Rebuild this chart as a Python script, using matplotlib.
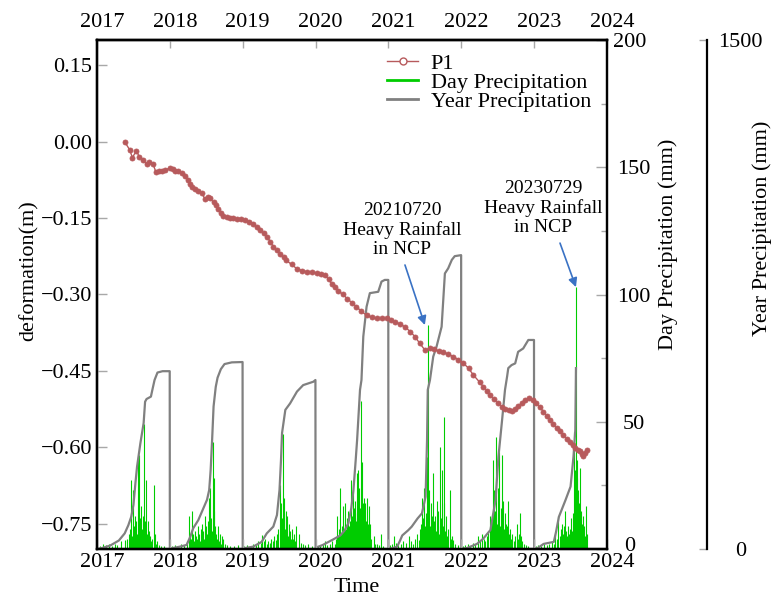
import matplotlib
matplotlib.use('Agg')
import matplotlib.pyplot as plt
import matplotlib.transforms as mtransforms
from matplotlib.lines import Line2D
from matplotlib.ticker import MultipleLocator
import numpy as np

plt.rcParams['font.family'] = ['Liberation Serif', 'DejaVu Serif']
plt.rcParams['font.size'] = 16

# P1 deformation (decimal year, m)
p1_time = [2017.38, 2017.45, 2017.485, 2017.54, 2017.58, 2017.635, 2017.68, 2017.72, 2017.77, 2017.81,
           2017.85, 2017.89, 2017.94, 2018.00, 2018.04, 2018.07, 2018.11, 2018.16, 2018.21, 2018.25,
           2018.28, 2018.31, 2018.345, 2018.39, 2018.44, 2018.48, 2018.52, 2018.55, 2018.60, 2018.63,
           2018.665, 2018.70, 2018.73, 2018.78, 2018.825, 2018.87, 2018.92, 2018.97, 2019.03, 2019.09,
           2019.145, 2019.19, 2019.24, 2019.29, 2019.33, 2019.38, 2019.42, 2019.47, 2019.51, 2019.56,
           2019.60, 2019.67, 2019.74, 2019.81, 2019.88, 2019.95, 2020.015, 2020.07, 2020.13, 2020.18,
           2020.22, 2020.27, 2020.31, 2020.38, 2020.43, 2020.50, 2020.56, 2020.63, 2020.70, 2020.77,
           2020.84, 2020.91, 2020.975, 2021.03, 2021.09, 2021.16, 2021.23, 2021.30, 2021.365, 2021.43,
           2021.50, 2021.57, 2021.63, 2021.69, 2021.75, 2021.82, 2021.89, 2021.96, 2022.03, 2022.10,
           2022.165, 2022.25, 2022.30, 2022.35, 2022.39, 2022.45, 2022.51, 2022.56, 2022.60, 2022.65,
           2022.69, 2022.735, 2022.78, 2022.83, 2022.87, 2022.925, 2022.985, 2023.03, 2023.08, 2023.125,
           2023.17, 2023.22, 2023.26, 2023.31, 2023.355, 2023.40, 2023.445, 2023.49, 2023.53, 2023.56,
           2023.60, 2023.63, 2023.655, 2023.675, 2023.70, 2023.73]
p1_def = [0.000, -0.016, -0.031, -0.018, -0.029, -0.036, -0.044, -0.040, -0.044, -0.060,
          -0.058, -0.057, -0.055, -0.052, -0.054, -0.057, -0.058, -0.061, -0.067, -0.075,
          -0.083, -0.088, -0.093, -0.097, -0.101, -0.112, -0.108, -0.110, -0.119, -0.125,
          -0.132, -0.139, -0.145, -0.148, -0.150, -0.150, -0.151, -0.152, -0.153, -0.157,
          -0.161, -0.167, -0.174, -0.180, -0.187, -0.196, -0.206, -0.213, -0.220, -0.227,
          -0.233, -0.241, -0.249, -0.253, -0.255, -0.256, -0.258, -0.260, -0.262, -0.270,
          -0.279, -0.286, -0.293, -0.300, -0.308, -0.316, -0.324, -0.333, -0.341, -0.345,
          -0.347, -0.347, -0.347, -0.350, -0.354, -0.358, -0.364, -0.373, -0.383, -0.396,
          -0.409, -0.406, -0.408, -0.411, -0.413, -0.417, -0.422, -0.428, -0.435, -0.445,
          -0.458, -0.472, -0.481, -0.489, -0.497, -0.506, -0.514, -0.521, -0.525, -0.527,
          -0.528, -0.525, -0.520, -0.513, -0.508, -0.504, -0.508, -0.514, -0.521, -0.530,
          -0.538, -0.546, -0.554, -0.563, -0.569, -0.576, -0.583, -0.589, -0.596, -0.602,
          -0.605, -0.608, -0.613, -0.618, -0.612, -0.605]

# daily precipitation, per year: day of year and mm
rain_2017_doy = [15, 30, 45, 60, 75, 90, 100, 120, 140, 150, 158, 165, 172, 176, 180, 185, 190, 194, 199, 204,
                 208, 212, 216, 220, 224, 228, 231, 234, 238, 242, 247, 251, 254, 258, 262, 267, 272, 278, 284, 290,
                 296, 302, 310, 320, 335]
rain_2017_mm = [1, 2, 1.5, 2, 1, 2, 1.5, 3, 3.5, 4, 6, 8, 27, 5, 23, 9, 13, 11, 6, 36,
                10, 37, 12, 17, 8, 13, 7, 49, 11, 9, 27, 6, 11, 4, 7, 5, 3, 4, 25, 6,
                2, 3, 1.5, 1, 1]
rain_2018_doy = [10, 25, 40, 55, 70, 85, 94, 100, 105, 110, 115, 120, 125, 130, 135, 140, 145, 150, 155, 160,
                 163, 168, 172, 176, 180, 185, 190, 194, 198, 202, 206, 210, 216, 219, 222, 226, 230, 235, 240, 245,
                 250, 256, 261, 268, 275, 285, 300, 320, 340]
rain_2018_mm = [1, 1.5, 1, 2, 1.5, 3, 13, 5, 4, 15, 6, 3, 7, 5, 4, 9, 6, 3, 8, 5,
                10, 7, 4, 13, 9, 6, 11, 20, 8, 24, 12, 7, 42, 15, 28, 9, 6, 4, 9, 3,
                6, 2, 5, 4, 2, 1.5, 1, 1, 1.5]
rain_2019_doy = [8, 20, 35, 50, 65, 78, 90, 97, 105, 112, 120, 128, 135, 142, 150, 158, 165, 172, 178, 185,
                 190, 194, 198, 202, 205, 209, 213, 216, 220, 224, 228, 232, 236, 240, 245, 250, 255, 260, 267, 281,
                 290, 300, 310, 325, 345]
rain_2019_mm = [1, 1.5, 1, 2, 1.5, 3, 2.5, 5.5, 3, 4, 2, 3, 2.5, 4, 3, 5, 3.5, 6, 8, 25,
                9, 18, 12, 45, 14, 20, 8, 15, 6, 13, 5, 10, 7, 4, 8, 4, 6, 3, 9, 6,
                2.5, 2, 1.5, 2, 1]
rain_2020_doy = [10, 20, 35, 48, 58, 70, 82, 95, 100, 107, 112, 117, 124, 128, 132, 137, 141, 146, 149, 153,
                 157, 161, 165, 170, 174, 177, 181, 184, 187, 190, 194, 197, 200, 204, 207, 210, 213, 216, 219, 222,
                 225, 229, 232, 235, 238, 241, 245, 249, 253, 257, 262, 266, 274, 280, 291, 300, 310, 320, 327, 340]
rain_2020_mm = [1, 1.5, 2, 3, 1.5, 2, 3, 2, 4, 13, 5, 8, 24, 6, 9, 17, 7, 10, 18, 8,
                12, 15, 9, 11, 6, 27, 10, 13, 23, 9, 16, 19, 12, 11, 30, 14, 31, 10, 24, 13,
                16, 58, 34, 12, 18, 9, 20, 18, 11, 20, 10, 17, 10, 4, 5, 2, 2, 1.5, 6, 1]
rain_2021_doy = [8, 18, 30, 40, 50, 62, 75, 90, 105, 115, 125, 135, 145, 152, 158, 163, 167, 171, 175, 179,
                 183, 187, 191, 196, 200, 204, 208, 212, 216, 220, 225, 229, 233, 237, 242, 246, 250, 254, 259, 263,
                 269, 273, 276, 280, 285, 289, 294, 300, 306, 312, 318, 325, 335, 350]
rain_2021_mm = [1.5, 2, 5, 2.5, 1.5, 2, 3, 2.5, 5, 3, 2, 4, 6, 3.5, 8, 10, 20, 7, 12, 24,
                9, 14, 36, 88, 11, 23, 9, 18, 13, 8, 30, 11, 13, 7, 19, 9, 15, 6, 40, 12,
                31, 9, 52, 18, 7, 13, 5, 8, 23, 4, 5, 3.5, 2, 1.5]
rain_2022_doy = [8, 20, 32, 45, 58, 70, 85, 95, 105, 115, 120, 128, 135, 142, 147, 152, 157, 161, 165, 170,
                 174, 178, 182, 186, 190, 194, 198, 202, 206, 210, 214, 218, 222, 226, 230, 236, 241, 246, 251, 256,
                 262, 268, 277, 282, 288, 294, 299, 305, 314, 322, 335]
rain_2022_mm = [1, 1.5, 2, 1, 2.5, 2, 5, 3, 6, 4, 3, 5, 7, 13, 9, 11, 35, 12, 23, 15,
                44, 10, 24, 14, 38, 9, 16, 37, 12, 19, 8, 14, 10, 6, 9, 19, 6, 8, 4, 6,
                3, 5, 10, 4, 6, 14, 5, 3, 2, 1.5, 1]
rain_2023_doy = [8, 20, 35, 50, 62, 75, 88, 100, 105, 116, 122, 128, 133, 138, 143, 148, 155, 160, 165, 170,
                 175, 180, 186, 190, 195, 200, 203, 206, 210, 214, 217, 222, 225, 230, 233, 237, 241, 247, 251, 255,
                 261, 267]
rain_2023_mm = [1, 1.5, 1, 2, 1.5, 2, 3, 2, 6, 4, 13, 5, 8, 10, 6, 9, 15, 7, 5, 9,
                6, 8, 12, 7, 14, 46, 25, 31, 103, 35, 28, 23, 18, 32, 15, 8, 10, 13, 9, 5,
                17, 6]

# cumulative yearly precipitation (decimal year, mm)
year_time = [2017.00, 2017.07, 2017.18, 2017.30, 2017.38, 2017.43, 2017.47, 2017.50, 2017.53, 2017.55,
             2017.595, 2017.64, 2017.66, 2017.68, 2017.74, 2017.76, 2017.79, 2017.83, 2017.90, 2017.998,
             2018.00, 2018.02, 2018.14, 2018.23, 2018.28, 2018.32, 2018.39, 2018.46, 2018.51, 2018.54,
             2018.56, 2018.58, 2018.60, 2018.63, 2018.655, 2018.70, 2018.75, 2018.85, 2018.998,
             2019.00, 2019.01, 2019.145, 2019.26, 2019.33, 2019.42, 2019.47, 2019.505, 2019.525, 2019.54,
             2019.585, 2019.65, 2019.745, 2019.83, 2019.97, 2019.998,
             2020.00, 2020.015, 2020.10, 2020.24, 2020.34, 2020.40, 2020.45, 2020.49, 2020.52, 2020.55,
             2020.57, 2020.61, 2020.63, 2020.655, 2020.70, 2020.745, 2020.86, 2020.905, 2020.95, 2020.998,
             2021.00, 2021.05, 2021.12, 2021.16, 2021.19, 2021.27, 2021.32, 2021.40, 2021.46, 2021.51,
             2021.53, 2021.54, 2021.57, 2021.615, 2021.66, 2021.73, 2021.775, 2021.82, 2021.87, 2021.91, 2021.998,
             2022.00, 2022.08, 2022.215, 2022.30, 2022.40, 2022.47, 2022.51, 2022.56, 2022.60, 2022.63,
             2022.645, 2022.69, 2022.74, 2022.78, 2022.85, 2022.92, 2022.998,
             2023.00, 2023.05, 2023.13, 2023.27, 2023.30, 2023.34, 2023.43, 2023.50, 2023.54, 2023.565, 2023.574]
year_mm = [0, 3, 10, 25, 46, 70, 95, 130, 200, 243,
           311, 371, 434, 442, 449, 469, 498, 520, 524, 524,
           0, 2, 7, 12, 36, 61, 85, 120, 145, 174,
           233, 321, 420, 478, 505, 530, 545, 550, 551,
           0, 2, 7, 21, 46, 66, 100, 174, 260, 342,
           410, 429, 464, 483, 493, 498,
           0, 5, 12, 28, 40, 55, 76, 120, 174, 260,
           321, 469, 498, 626, 714, 754, 758, 788, 793, 793,
           0, 2, 7, 25, 40, 55, 66, 90, 105, 154,
           321, 469, 498, 567, 596, 655, 812, 827, 852, 863, 866,
           0, 3, 15, 30, 56, 144, 272, 380, 469, 510,
           533, 542, 547, 581, 591, 616, 616,
           0, 3, 15, 21, 50, 95, 144, 184, 272, 351, 533]

years = [2017, 2018, 2019, 2020, 2021, 2022, 2023, 2024]
year_labels = [str(y) for y in years]

rain_doy = [rain_2017_doy, rain_2018_doy, rain_2019_doy, rain_2020_doy, rain_2021_doy, rain_2022_doy, rain_2023_doy]
rain_mm = [rain_2017_mm, rain_2018_mm, rain_2019_mm, rain_2020_mm, rain_2021_mm, rain_2022_mm, rain_2023_mm]
day_t = []
day_v = []
for yr, doy, mm in zip(years[:-1], rain_doy, rain_mm):
    day_t += [yr + d / 365.0 for d in doy]
    day_v += mm

p1_color = '#b75a5c'
green = '#00cc00'
gray = '#808080'
tick_gray = '#a8a8a8'

fig = plt.figure(figsize=(7.73, 5.97), dpi=100)
ax = fig.add_axes([97 / 773, 48 / 597, 510 / 773, 509 / 597])
ax2 = ax.twinx()
ax3 = ax.twinx()
ax3.spines['right'].set_position(('axes', 610 / 510))

ax2.set_zorder(1)
ax3.set_zorder(2)
ax.set_zorder(3)
ax.patch.set_visible(False)
ax3.patch.set_visible(False)

ax2.vlines(day_t, 0, day_v, color=green, lw=0.8)
ax3.plot(year_time, year_mm, color=gray, lw=1.6)
ax.plot(p1_time, p1_def, color=p1_color, lw=1, marker='o', markersize=3.6, markeredgewidth=0.6)

ax.set_xlim(2017, 2024)
ax.set_ylim(-0.8, 0.2)
ax2.set_ylim(0, 200)
ax3.set_ylim(0, 1500)

ax.set_xticks(years)
ax.set_xticklabels(year_labels)
ax.set_yticks([0.15, 0.0, -0.15, -0.30, -0.45, -0.60, -0.75])
ax.set_yticklabels(['0.15', '0.00', '\u22120.15', '\u22120.30', '\u22120.45', '\u22120.60', '\u22120.75'])
ax.tick_params(axis='both', direction='in', length=7, width=1, color=tick_gray, labelsize=16)
ax.tick_params(axis='x', pad=3)

secax = ax.secondary_xaxis('top')
secax.set_xticks(years)
secax.set_xticklabels(year_labels)
secax.tick_params(direction='in', length=6, width=1, color=tick_gray, labelsize=16, pad=6)

ax2.set_yticks([0, 50, 100, 150, 200])
ax2.yaxis.set_minor_locator(MultipleLocator(25))
ax2.tick_params(axis='y', which='major', direction='in', length=8, width=1, color=tick_gray, labelsize=16, pad=19)
ax2.tick_params(axis='y', which='minor', direction='in', length=4, width=1, color=tick_gray)
for lbl in ax2.get_yticklabels():
    lbl.set_horizontalalignment('center')

ax3.set_yticks([0, 1500])
ax3.tick_params(axis='y', direction='in', length=6, width=1, color=tick_gray, labelsize=16, pad=24)
for lbl in ax3.get_yticklabels():
    lbl.set_horizontalalignment('center')

for a in (ax, ax2, ax3):
    for sp in a.spines.values():
        sp.set_linewidth(1.6)
        sp.set_color('black')
secax.spines['top'].set_linewidth(1.6)

# year labels sit a little right of their ticks
shift = mtransforms.ScaledTranslation(0.05, 0, fig.dpi_scale_trans)
for lbl in ax.get_xticklabels() + secax.get_xticklabels():
    lbl.set_transform(lbl.get_transform() + shift)

# end labels of the day axis sit a bit inward
day_lbls = ax2.get_yticklabels()
day_lbls[0].set_transform(day_lbls[0].get_transform()
                          + mtransforms.ScaledTranslation(-0.04, 0.05, fig.dpi_scale_trans))
day_lbls[-1].set_transform(day_lbls[-1].get_transform()
                           + mtransforms.ScaledTranslation(-0.04, 0, fig.dpi_scale_trans))

ax.set_xlabel('Time', fontsize=16)
ax.xaxis.set_label_coords(0.51, -0.056)
ax.set_ylabel('deformation(m)', fontsize=16)
ax.yaxis.set_label_coords(-0.115, 0.546)
ax2.set_ylabel('Day Precipitation (mm)', fontsize=16)
ax2.yaxis.set_label_coords(1.1, 0.599)
ax3.set_ylabel('Year Precipitation (mm)', fontsize=16)
ax3.yaxis.set_label_coords(1.285, 0.631)

# annotations of the two heavy rainfall events
arrow_color = '#3a72c4'
ax2.text(2021.186, 125.3, '20210720\nHeavy Rainfall\nin NCP', ha='center', va='center',
         fontsize=14, linespacing=1.15)
ax2.annotate('', xy=(2021.50, 88.0), xytext=(2021.227, 111.6),
             arrowprops=dict(arrowstyle='-|>', color=arrow_color, lw=1.2, mutation_scale=13,
                             shrinkA=0, shrinkB=0))
ax2.text(2023.12, 134.0, '20230729\nHeavy Rainfall\nin NCP', ha='center', va='center',
         fontsize=14, linespacing=1.15)
ax2.annotate('', xy=(2023.574, 102.9), xytext=(2023.355, 120.2),
             arrowprops=dict(arrowstyle='-|>', color=arrow_color, lw=1.2, mutation_scale=13,
                             shrinkA=0, shrinkB=0))

handles = [Line2D([], [], color=p1_color, lw=1, marker='o', markersize=5, markerfacecolor='white'),
           Line2D([], [], color=green, lw=2),
           Line2D([], [], color=gray, lw=2)]
ax.legend(handles, ['P1', 'Day Precipitation', 'Year Precipitation'], loc='upper left',
          bbox_to_anchor=(0.569, 0.974), frameon=False, fontsize=16, handlelength=1.4,
          handletextpad=0.55, labelspacing=-0.07, borderpad=0, borderaxespad=0)

fig.savefig('out.png', dpi=100)
